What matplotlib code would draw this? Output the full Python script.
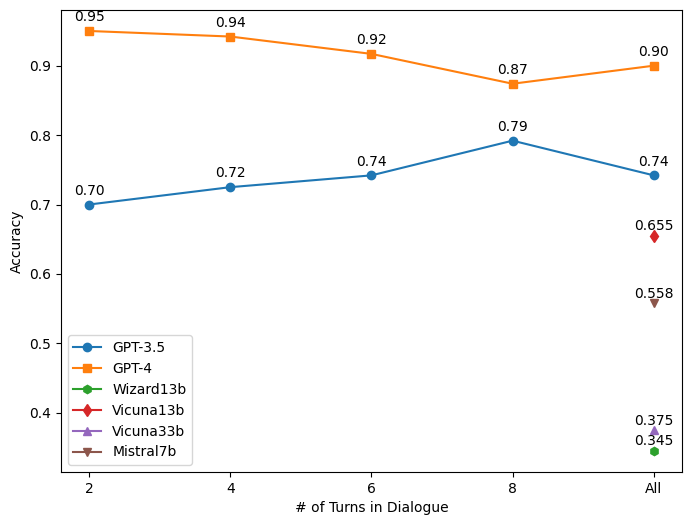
import matplotlib
matplotlib.use("Agg")
import matplotlib.pyplot as plt

turns = ["2", "4", "6", "8", "All"]
gpt35 = [0.700, 0.725, 0.742, 0.792, 0.742]
gpt4 = [0.950, 0.942, 0.917, 0.874, 0.900]

# small models only evaluated on "All"
small_names = ["Wizard13b", "Vicuna13b", "Vicuna33b", "Mistral7b"]
small_vals = [0.345, 0.655, 0.375, 0.558]
small_markers = ["h", "d", "^", "v"]

x = list(range(len(turns)))

fig, ax = plt.subplots(figsize=(6.91, 5.25), dpi=100)

ax.plot(x, gpt35, marker="o", label="GPT-3.5")
ax.plot(x, gpt4, marker="s", label="GPT-4")
for xi, v in zip(x, gpt35):
    ax.annotate(f"{v:.2f}", (xi, v), textcoords="offset points", xytext=(0, 7), ha="center")
for xi, v in zip(x, gpt4):
    ax.annotate(f"{v:.2f}", (xi, v), textcoords="offset points", xytext=(0, 7), ha="center")

for name, v, m in zip(small_names, small_vals, small_markers):
    ax.plot([x[-1]], [v], marker=m, label=name)
    ax.annotate(f"{v:.3f}", (x[-1], v), textcoords="offset points", xytext=(0, 4), ha="center")

ax.set_xticks(x)
ax.set_xticklabels(turns)
ax.set_xlabel("# of Turns in Dialogue")
ax.set_ylabel("Accuracy")
ax.legend(loc="lower left")

fig.subplots_adjust(left=0.088, right=0.987, top=0.981, bottom=0.101)
fig.savefig("out.png")
